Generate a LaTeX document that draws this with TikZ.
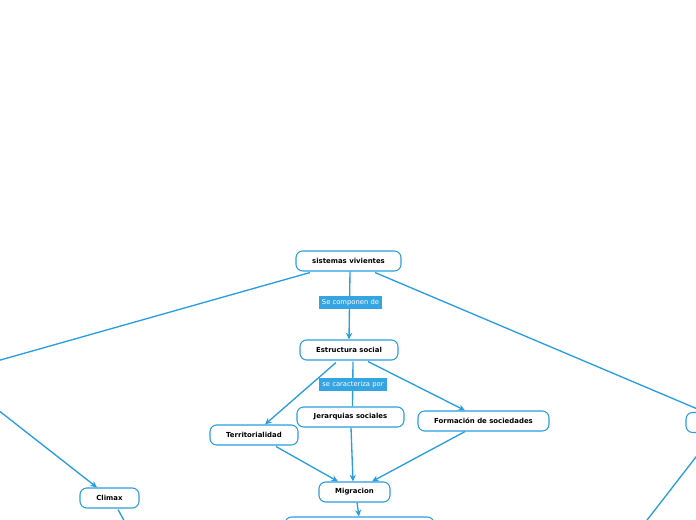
\documentclass[tikz,border=0pt]{standalone}
\usepackage{fontspec}
\newfontfamily\dvfont{DejaVu Sans}
\usetikzlibrary{arrows.meta,calc}
\definecolor{nodeblue}{HTML}{2A9DE0}
\definecolor{edgeblue}{HTML}{2A9DE0}
\definecolor{labblue}{HTML}{35A4E2}
\begin{document}
\begin{tikzpicture}[x=0.75pt,y=-0.75pt,
  box/.style={draw=nodeblue, line width=0.8pt, rounded corners=5pt, fill=white,
    minimum height=15pt, inner sep=0pt, font=\dvfont\bfseries\fontsize{5.2}{6}\selectfont},
  lab/.style={fill=labblue, draw=none, minimum height=9.75pt, inner sep=0pt,
    text=white, font=\dvfont\fontsize{5.1}{6}\selectfont},
  conn/.style={draw=edgeblue, line width=1pt},
  arr/.style={conn, -{Stealth[length=5pt,width=4.6pt]}}]
\useasboundingbox (0,0) rectangle (696,520);
\clip (0,0) rectangle (696,520);
% nodes
\node[box, minimum width=78.75pt] (sv) at (348.5,261) {sistemas vivientes};
\node[box, minimum width=73.5pt] (es) at (349,350) {Estructura social};
\node[box, minimum width=80.25pt] (jer) at (350.5,417) {Jerarquias sociales};
\node[box, minimum width=66pt] (ter) at (254,435) {Territorialidad};
\node[box, minimum width=98.25pt] (form) at (483.5,421) {Formación de sociedades};
\node[box, minimum width=53.25pt] (mig) at (354.5,492) {Migracion};
\node[box, minimum width=111.75pt] (bot) at (359.5,527) {};
\node[box, minimum width=44.25pt] (cli) at (109.5,498) {Climax};
\node[box, minimum width=73.5pt] (rgt) at (735,422.5) {};
% off-canvas ends
\coordinate (leftin) at (-35,370);
\coordinate (leftout) at (-25,392);
\coordinate (rgtdown) at (620,555);
\coordinate (clidown) at (132,535);
% connectors
\draw[arr] ($(sv.south)+(1.5,0)$) -- (es.north);
\draw[arr] ($(sv.south)+(-38.5,1)$) -- (leftin);
\draw[arr] ($(sv.south)+(26.5,1)$) -- ($(rgt.north west)+(19,0)$);
\draw[conn] ($(rgt.south west)+(29,0)$) -- (rgtdown);
\draw[arr] ($(es.south)+(-13,2)$) -- ($(ter.north)+(11,0)$);
\draw[conn] ($(es.south)+(4,1)$) -- ($(jer.north)+(2,0)$);
\draw[arr] ($(es.south)+(19,1)$) -- ($(form.north)+(-18.5,0)$);
\draw[arr] ($(ter.south)+(22,1)$) -- ($(mig.north)+(-16.5,0)$);
\draw[arr] ($(jer.south)+(0.5,0)$) -- ($(mig.north)+(-1.5,0)$);
\draw[arr] ($(form.south)+(-18.5,0)$) -- ($(mig.north)+(17.5,0)$);
\draw[arr] ($(mig.south)+(2.5,0)$) -- ($(bot.north)+(-0.5,0)$);
\draw[arr] (leftout) -- ($(cli.north)+(-12.5,0)$);
\draw[conn] ($(cli.south)+(8.5,1)$) -- (clidown);
% labels
\node[lab, minimum width=47.25pt] (lab1) at (350.5,302.5) {Se componen de};
\node[lab, minimum width=51pt] (lab2) at (353,384.5) {se caracteriza por};
\end{tikzpicture}
\end{document}
